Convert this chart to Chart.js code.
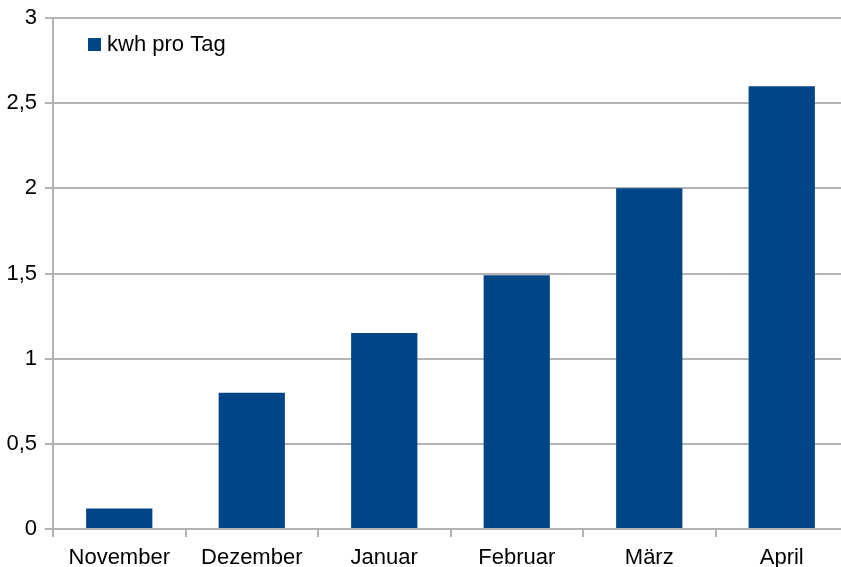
<!DOCTYPE html>
<html>
<head>
<meta charset="utf-8">
<script src="https://cdn.jsdelivr.net/npm/chart.js@4/dist/chart.umd.min.js"></script>
<style>
  html, body { margin: 0; padding: 0; background: #fff; overflow: hidden; }
  #wrap { position: absolute; left: 0; top: 0; width: 848px; height: 567px; }
</style>
</head>
<body>
<div id="wrap"><canvas id="myChart" width="848" height="567"></canvas></div>
<script>
let monate = ['November', 'Dezember', 'Januar', 'Februar', 'März', 'April'];
let kwhProTag = [0.12, 0.8, 1.15, 1.49, 2.0, 2.6];
let serienName = 'kwh pro Tag';
let yMin = 0, yMax = 3, yStep = 0.5;

let balkenFarbe = '#004586';
let gitterFarbe = '#b3b3b3';
let schrift = { family: '"Liberation Sans", Arial, sans-serif', size: 22 };

// legend drawn inside the plot area, top left
let innenLegende = {
    id: 'innenLegende',
    afterDraw(chart) {
        let ctx = chart.ctx;
        let ds = chart.data.datasets[0];
        ctx.save();
        ctx.fillStyle = ds.backgroundColor;
        ctx.fillRect(88, 38, 13, 13);
        ctx.fillStyle = '#000';
        ctx.font = schrift.size + 'px ' + schrift.family;
        ctx.textBaseline = 'middle';
        ctx.fillText(ds.label, 107, 45);
        ctx.restore();
    }
};

let diagramma = document.getElementById('myChart').getContext('2d');
let myChart = new Chart(diagramma, {
    type: 'bar',
    data: {
        labels: monate,
        datasets: [{
            label: serienName,
            data: kwhProTag,
            backgroundColor: balkenFarbe,
            borderWidth: 0,
            barPercentage: 0.5,
            categoryPercentage: 1.0
        }]
    },
    options: {
        responsive: false,
        animation: false,
        layout: { padding: { top: 18, right: 0, left: 0, bottom: 0 } },
        plugins: {
            legend: false,
            tooltip: false
        },
        scales: {
            x: {
                grid: {
                    offset: true,
                    drawOnChartArea: false,
                    color: gitterFarbe,
                    lineWidth: 2,
                    tickLength: 8
                },
                border: { color: gitterFarbe, width: 2 },
                ticks: { color: '#000', font: schrift, padding: 8, maxRotation: 0 },
                afterFit: (scale) => { scale.height = 38; }
            },
            y: {
                min: yMin,
                max: yMax,
                grid: {
                    color: gitterFarbe,
                    lineWidth: 2,
                    tickLength: 8
                },
                border: { color: gitterFarbe, width: 2 },
                ticks: {
                    stepSize: yStep,
                    color: '#000',
                    font: schrift,
                    padding: 8,
                    callback: (value) => String(value).replace('.', ',')
                },
                afterFit: (scale) => {
                    scale.width = 53;
                    scale.paddingTop = 0;
                    scale.paddingBottom = 0;
                }
            }
        }
    },
    plugins: [innenLegende]
});
</script>
</body>
</html>
